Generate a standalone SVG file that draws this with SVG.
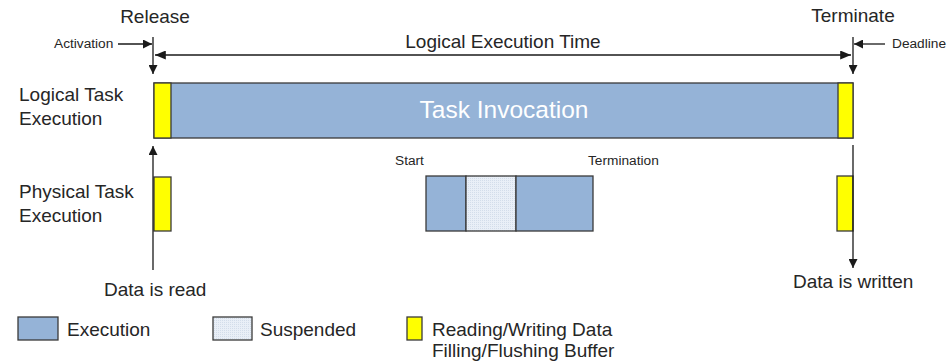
<svg xmlns="http://www.w3.org/2000/svg" width="948" height="364" viewBox="0 0 948 364">
<style>
text{font-family:"Liberation Sans",Arial,sans-serif;fill:#262626}
.big{font-size:19px}
.sm{font-size:13.7px}
.exec{fill:#95B3D7;stroke:#3a3a3a;stroke-width:1.3}
.susp{fill:url(#dots);stroke:#3a3a3a;stroke-width:1.3}
.rw{fill:#FFFF00;stroke:#3a3a3a;stroke-width:1.3}
.ln{stroke:#1a1a1a;stroke-width:1.3;fill:none}
</style>
<defs>
<pattern id="dots" width="2" height="2" patternUnits="userSpaceOnUse">
<rect width="2" height="2" fill="#E9EFF7"/>
<rect x="0" y="0" width="1" height="1" fill="#D3DDEA"/>
</pattern>
<marker id="ah" viewBox="0 0 10 10" refX="10" refY="5" markerWidth="9" markerHeight="9" markerUnits="userSpaceOnUse" orient="auto">
<path d="M0,0 L10,5 L0,10 z" fill="#1a1a1a"/>
</marker>
<marker id="ahw" viewBox="0 0 12 10" refX="12" refY="5" markerWidth="12" markerHeight="9" markerUnits="userSpaceOnUse" orient="auto-start-reverse">
<path d="M0,0 L12,5 L0,10 z" fill="#1a1a1a"/>
</marker>
</defs>
<g id="labels">
<text class="big" x="155" y="23" text-anchor="middle">Release</text>
<text class="big" x="853" y="22" text-anchor="middle">Terminate</text>
<text class="big" x="503" y="48" text-anchor="middle">Logical Execution Time</text>
<text class="sm" x="54" y="48">Activation</text>
<text class="sm" x="892" y="48">Deadline</text>
<text class="big" x="19" y="101">Logical Task</text>
<text class="big" x="19" y="125">Execution</text>
<text class="big" x="19" y="198">Physical Task</text>
<text class="big" x="19" y="222">Execution</text>
<text class="big" x="104" y="296">Data is read</text>
<text class="big" x="793" y="288">Data is written</text>
<text class="sm" x="395" y="165">Start</text>
<text class="sm" x="588" y="165">Termination</text>
</g>
<g id="logical-task">
<rect class="exec" x="154" y="83" width="699" height="55"/>
<rect class="rw" x="154" y="83" width="17" height="55"/>
<rect class="rw" x="838" y="83" width="15" height="55"/>
<text x="504" y="118" text-anchor="middle" style="font-size:24.5px;fill:#ffffff">Task Invocation</text>
</g>
<g id="physical-read">
<rect class="rw" x="154" y="177" width="17" height="54"/>
</g>
<g id="physical-write">
<rect class="rw" x="837" y="176" width="16" height="55"/>
</g>
<g id="physical-task">
<rect class="exec" x="426" y="176" width="40" height="55"/>
<rect class="susp" x="466" y="176" width="50" height="55"/>
<rect class="exec" x="516" y="176" width="77" height="55"/>
</g>
<g id="connectors">
<line class="ln" x1="153" y1="37" x2="153" y2="74" marker-end="url(#ah)"/>
<line class="ln" x1="853" y1="37" x2="853" y2="74" marker-end="url(#ah)"/>
<line class="ln" x1="118" y1="44" x2="152" y2="44" marker-end="url(#ah)"/>
<line class="ln" x1="885" y1="44" x2="854" y2="44" marker-end="url(#ah)"/>
<line class="ln" x1="155" y1="55" x2="851" y2="55" marker-start="url(#ahw)" marker-end="url(#ahw)"/>
<line class="ln" x1="153" y1="270" x2="153" y2="146" marker-end="url(#ah)"/>
<line class="ln" x1="853" y1="145" x2="853" y2="268" marker-end="url(#ah)"/>
</g>
<g id="legend">
<rect class="exec" x="18" y="317" width="40" height="23"/>
<text class="big" x="67" y="336">Execution</text>
<rect class="susp" x="213" y="317" width="39" height="23"/>
<text class="big" x="260" y="336">Suspended</text>
<rect class="rw" x="407" y="317" width="15" height="23"/>
<text class="big" x="432" y="336">Reading/Writing Data</text>
<text class="big" x="432" y="357">Filling/Flushing Buffer</text>
</g>
</svg>
